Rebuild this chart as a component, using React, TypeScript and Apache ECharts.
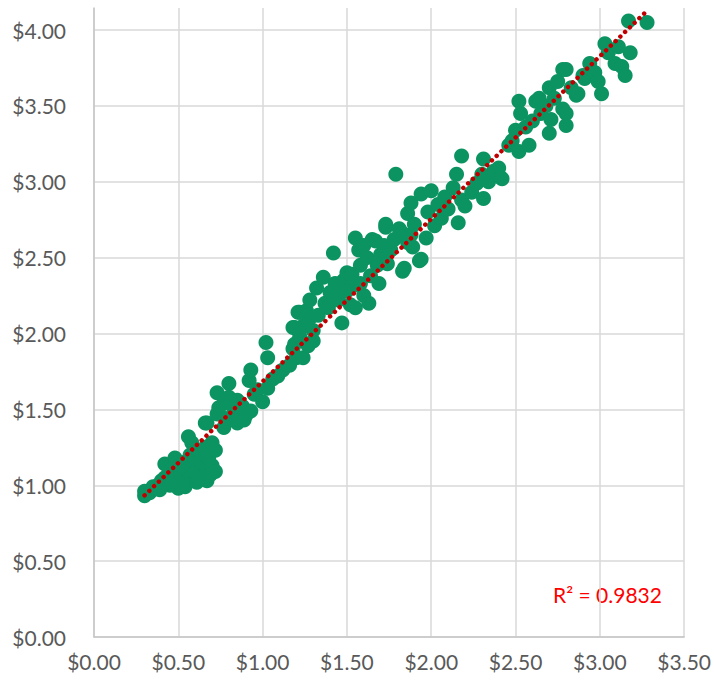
import React, { useEffect, useRef } from "react";
import * as echarts from "echarts";

const points: [number, number][] = [
  [0.30,0.93],[0.30,0.96],[0.33,0.95],[0.35,0.99],[0.38,1.00],[0.40,1.03],[0.42,1.05],[0.42,1.14],[0.44,1.05],[0.45,1.10],[0.47,1.02],[0.48,1.18],[0.48,1.08],[0.50,0.98],[0.50,1.12],[0.52,1.06],[0.53,1.15],[0.54,0.99],[0.55,1.10],[0.56,1.32],[0.56,1.04],[0.57,1.20],[0.58,1.28],[0.58,1.12],[0.60,1.08],[0.60,1.17],[0.61,1.02],[0.62,1.22],[0.63,1.10],[0.64,1.15],[0.65,1.05],[0.66,1.25],[0.66,1.41],[0.67,1.03],[0.67,1.12],[0.68,1.18],[0.70,1.13],[0.70,1.28],[0.72,1.09],[0.72,1.23],[0.45,1.00],[0.39,0.97],[0.52,1.00],[0.62,1.05],[0.69,1.07],
  [0.67,1.41],[0.73,1.47],[0.73,1.61],[0.74,1.51],[0.77,1.54],[0.77,1.38],[0.80,1.58],[0.80,1.67],[0.82,1.45],[0.85,1.56],[0.85,1.41],[0.86,1.49],[0.88,1.52],[0.89,1.43],[0.90,1.46],[0.92,1.69],[0.93,1.49],[0.93,1.76],[0.95,1.60],[0.97,1.63],[1.00,1.55],[0.78,1.44],[0.83,1.50],
  [1.02,1.94],[1.03,1.84],[1.03,1.64],[1.06,1.70],[1.09,1.72],[1.12,1.76],[1.16,1.79],[1.18,1.90],[1.19,1.93],[1.18,2.04],[1.20,1.84],[1.21,2.14],[1.22,1.98],[1.24,1.84],[1.24,2.05],[1.26,2.15],[1.27,1.92],[1.28,2.10],[1.30,1.95],[1.30,2.02],[1.22,2.14],[1.19,2.04],
  [1.28,2.22],[1.32,2.30],[1.33,2.12],[1.36,2.37],[1.37,2.20],[1.39,2.17],[1.40,2.27],[1.42,2.53],[1.43,2.33],[1.45,2.22],[1.47,2.07],[1.48,2.35],[1.50,2.28],[1.50,2.40],[1.52,2.19],[1.53,2.39],[1.55,2.63],[1.55,2.17],[1.56,2.32],[1.57,2.55],[1.58,2.45],[1.60,2.25],[1.60,2.58],[1.62,2.50],[1.63,2.20],[1.64,2.38],[1.65,2.62],[1.67,2.61],[1.68,2.45],[1.69,2.33],[1.70,2.52],[1.72,2.58],[1.73,2.70],[1.74,2.46],[1.73,2.72],[1.76,2.55],[1.78,2.62],[1.81,2.69],[1.83,2.66],[1.83,2.41],[1.84,2.43],[1.86,2.60],[1.88,2.65],[1.89,2.57],[1.93,2.48],[1.94,2.49],[1.45,2.30],[1.58,2.33],
  [1.79,3.05],[1.86,2.79],[1.88,2.86],[1.90,2.72],[1.94,2.92],[1.97,2.63],[1.98,2.80],[2.00,2.94],[2.02,2.71],[2.04,2.85],[2.06,2.76],[2.08,2.90],[2.10,2.82],[2.13,2.96],[2.15,3.05],[2.16,2.73],[2.18,3.17],[2.18,2.88],[2.20,2.84],[2.24,2.93],[2.27,2.99],[2.30,3.05],[2.31,3.15],[2.31,2.89],[2.34,3.00],[2.37,3.07],[2.40,3.09],[2.41,3.03],[2.42,3.02],[2.46,3.24],[2.48,3.27],
  [2.50,3.34],[2.52,3.53],[2.52,3.20],[2.53,3.45],[2.56,3.36],[2.58,3.24],[2.60,3.40],[2.62,3.53],[2.64,3.55],[2.65,3.45],[2.68,3.50],[2.70,3.62],[2.70,3.32],[2.71,3.41],[2.73,3.55],[2.75,3.66],[2.78,3.74],[2.78,3.48],[2.80,3.45],[2.80,3.37],[2.80,3.74],[2.83,3.62],[2.86,3.57],[2.87,3.58],[2.90,3.70],[2.91,3.68],[2.94,3.78],[2.95,3.73],[2.97,3.72],[2.99,3.66],[3.01,3.58],[3.03,3.91],[3.05,3.85],[3.09,3.78],[3.11,3.89],[3.13,3.76],[3.15,3.70],[3.17,4.06],[3.18,3.85],[3.28,4.05],
];

const xTicks = { min: 0, max: 3.5, interval: 0.5 };
const yTicks = { min: 0, max: 4.145, interval: 0.5 };
const rSquaredLabel = "R² = 0.9832";

function regression(pts: [number, number][]) {
  const n = pts.length;
  let sx = 0, sy = 0, sxx = 0, sxy = 0;
  for (const [x, y] of pts) { sx += x; sy += y; sxx += x * x; sxy += x * y; }
  const slope = (n * sxy - sx * sy) / (n * sxx - sx * sx);
  const intercept = (sy - slope * sx) / n;
  return { slope, intercept };
}

export default function App() {
  const ref = useRef<HTMLDivElement>(null);
  useEffect(() => {
    if (!ref.current) return;
    const chart = echarts.init(ref.current, null, { renderer: "svg" });
    const { slope, intercept } = regression(points);
    const xs = points.map((p) => p[0]);
    const x0 = Math.min(...xs);
    const x1 = Math.max(...xs);
    const trend = [[x0, slope * x0 + intercept], [x1, slope * x1 + intercept]];
    const labelStyle = { color: "#595959", fontSize: 21, fontFamily: "Lato" };
    chart.setOption({
      animation: false,
      backgroundColor: "#ffffff",
      grid: { left: 94, right: 28, top: 8, bottom: 46 },
      xAxis: {
        type: "value",
        min: xTicks.min, max: xTicks.max, interval: xTicks.interval,
        axisLine: { show: true, lineStyle: { color: "#c6c6c6", width: 1.5 } },
        axisTick: { show: false },
        splitLine: { show: true, lineStyle: { color: "#d9d9d9", width: 1.5 } },
        axisLabel: { ...labelStyle, margin: 14, formatter: (v: number) => "$" + v.toFixed(2) },
      },
      yAxis: {
        type: "value",
        min: yTicks.min, max: yTicks.max, interval: yTicks.interval,
        axisLine: { show: true, lineStyle: { color: "#c6c6c6", width: 1.5 } },
        axisTick: { show: false },
        splitLine: { show: true, showMaxLine: false, lineStyle: { color: "#d9d9d9", width: 1.5 } },
        axisLabel: { ...labelStyle, margin: 28, showMaxLabel: false, formatter: (v: number) => "$" + v.toFixed(2) },
      },
      series: [
        {
          type: "scatter",
          data: points,
          symbolSize: 15,
          itemStyle: { color: "#0b9461", opacity: 1 },
          z: 2,
        },
        {
          type: "line",
          data: trend,
          symbol: "none",
          lineStyle: { color: "#c00000", width: 4.5, type: [0.01, 6.6], cap: "round" },
          z: 3,
        },
      ],
      graphic: [
        {
          type: "text",
          left: 553,
          top: 584,
          style: { text: rSquaredLabel, fill: "#ff0000", fontSize: 21, fontFamily: "Lato" },
        },
      ],
    });
    return () => chart.dispose();
  }, []);
  return <div ref={ref} style={{ position: "fixed", left: 0, top: 0, width: 714, height: 683 }} />;
}
